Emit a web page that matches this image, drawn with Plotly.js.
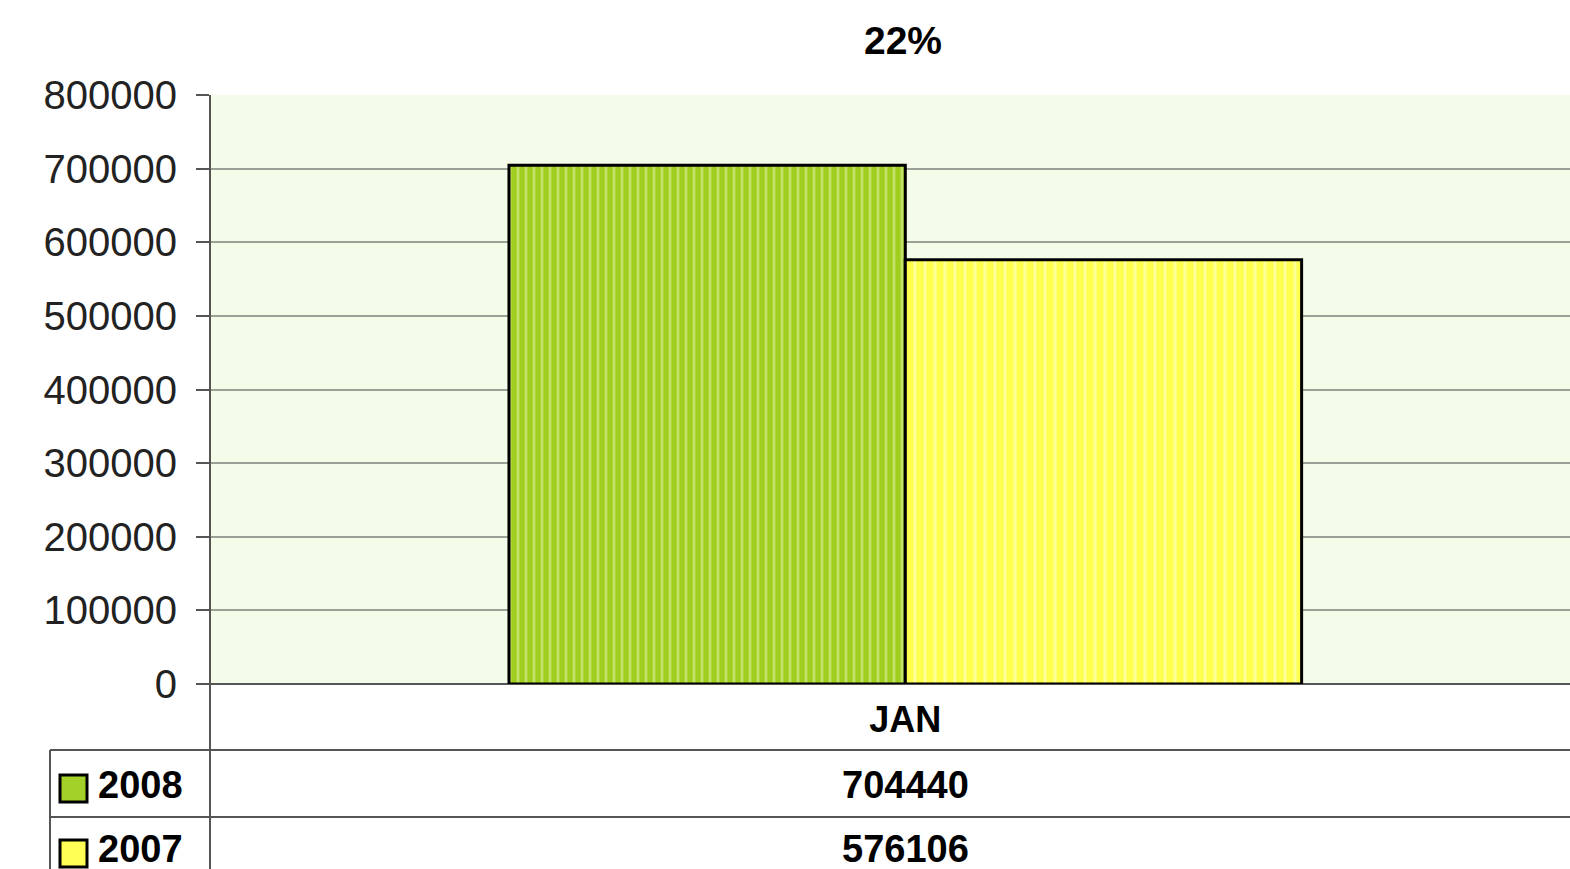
<!DOCTYPE html>
<html>
<head>
<meta charset="utf-8">
<script src="https://cdn.plot.ly/plotly-3.0.1.min.js"></script>
<style>html,body{margin:0;padding:0;background:#fff;}#chart{width:1570px;height:869px;}</style>
</head>
<body>
<div id="chart"></div>
<script>
const categories = ["JAN"];
const seriesNames = ["2008", "2007"];
const values2008 = [704440];
const values2007 = [576106];
const chartTitle = "22%";
const yTickVals = [0, 100000, 200000, 300000, 400000, 500000, 600000, 700000, 800000];

const W = 1570, H = 869;
const L = 210, R = 0, T = 95, B = 185;
const pw = W - L - R, ph = H - T - B;
const px = x => (x - L) / pw;          // pixel x -> paper x
const py = y => (H - B - y) / ph;      // pixel y -> paper y

const FONT = "Liberation Sans, Arial, sans-serif";
const lineCol = "#555555";

const traces = [
  {
    type: "bar", name: seriesNames[0], x: categories, y: values2008,
    marker: {color: "#a3d12a", line: {color: "#000", width: 3},
      pattern: {shape: "|", bgcolor: "#9fcf1c", fgcolor: "#c4e068", size: 8, solidity: 0.35}},
    hoverinfo: "none"
  },
  {
    type: "bar", name: seriesNames[1], x: categories, y: values2007,
    marker: {color: "#ffff55", line: {color: "#000", width: 3},
      pattern: {shape: "|", bgcolor: "#ffff4d", fgcolor: "#ffff99", size: 10, solidity: 0.3}},
    hoverinfo: "none"
  }
];

const shapes = [
  {type: "line", xref: "paper", yref: "paper", x0: 0, x1: 0, y0: 1, y1: py(H), line: {color: lineCol, width: 2}},
  {type: "line", xref: "paper", yref: "paper", x0: px(50), x1: 1, y0: py(750), y1: py(750), line: {color: lineCol, width: 2}},
  {type: "line", xref: "paper", yref: "paper", x0: px(50), x1: 1, y0: py(817), y1: py(817), line: {color: lineCol, width: 2}},
  {type: "line", xref: "paper", yref: "paper", x0: px(50), x1: px(50), y0: py(750), y1: py(H), line: {color: lineCol, width: 2}},
  {type: "rect", xref: "paper", yref: "paper", x0: px(60), x1: px(87), y0: py(775), y1: py(802), fillcolor: "#a3d12a", line: {color: "#000", width: 3}},
  {type: "rect", xref: "paper", yref: "paper", x0: px(60), x1: px(87), y0: py(840), y1: py(867), fillcolor: "#ffff55", line: {color: "#000", width: 3}}
];

const rowY = [py(785), py(849)];
const seriesVals = [values2008, values2007];
const annotations = [];
seriesNames.forEach((nm, i) => {
  annotations.push({xref: "paper", yref: "paper", x: px(96), y: rowY[i], xanchor: "left", yanchor: "middle",
    text: nm, showarrow: false, font: {family: FONT, size: 38, color: "#000", weight: "bold"}});
  categories.forEach((c, j) => {
    annotations.push({xref: "x", yref: "paper", x: c, y: rowY[i], xanchor: "center", yanchor: "middle",
      text: String(seriesVals[i][j]), showarrow: false, font: {family: FONT, size: 38, color: "#000", weight: "bold"}});
  });
});

const layout = {
  width: W, height: H,
  margin: {l: L, r: R, t: T, b: B, pad: 0},
  paper_bgcolor: "#ffffff",
  plot_bgcolor: "#f4fce9",
  showlegend: false,
  barmode: "group",
  bargap: 0.43,
  bargroupgap: 0,
  title: {text: chartTitle, x: 903 / W, xanchor: "center", y: 1 - 40 / H, yanchor: "middle",
    font: {family: FONT, size: 39, color: "#000", weight: "bold"}},
  xaxis: {
    type: "category", range: [-0.5, 0.478], fixedrange: true,
    showgrid: false, zeroline: false, showline: false, ticks: "",
    tickfont: {family: FONT, size: 36, color: "#000", weight: "bold"},
    ticklabelstandoff: 11
  },
  yaxis: {
    range: [0, 800000], tickvals: yTickVals, ticktext: yTickVals.map(String),
    showgrid: true, gridcolor: "#9ba196", gridwidth: 2,
    zeroline: true, zerolinecolor: lineCol, zerolinewidth: 2,
    showline: false, ticks: "outside", ticklen: 13, tickwidth: 2, tickcolor: lineCol,
    tickfont: {family: FONT, size: 40, color: "#222"},
    ticklabelstandoff: 11, fixedrange: true
  },
  shapes: shapes,
  annotations: annotations
};

Plotly.newPlot("chart", traces, layout, {displayModeBar: false, staticPlot: true});
</script>
</body>
</html>
